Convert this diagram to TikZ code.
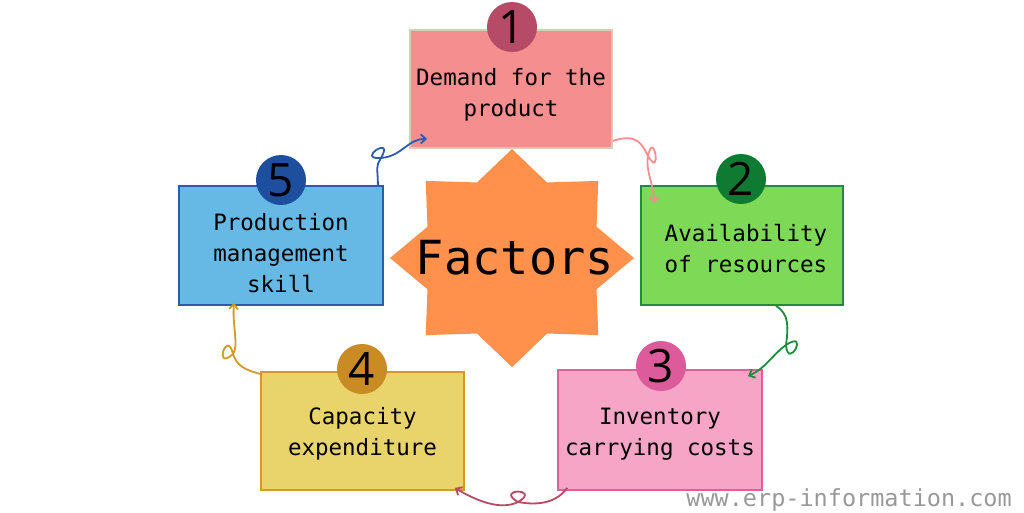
\documentclass[tikz,border=0pt]{standalone}
\usepackage{fontspec}
\setmonofont{DejaVu Sans Mono}
\newfontfamily\numfont{Open Sans}
\usepackage{tikz}
\usetikzlibrary{arrows.meta,calc}
\definecolor{pk1}{HTML}{F58E8E}\definecolor{pk1d}{HTML}{D9CCB0}\definecolor{pk1c}{HTML}{B54B66}
\definecolor{gr2}{HTML}{7ED957}\definecolor{gr2d}{HTML}{1E8C3A}\definecolor{gr2c}{HTML}{0F7A32}
\definecolor{mg3}{HTML}{F6A5C7}\definecolor{mg3d}{HTML}{E0609A}\definecolor{mg3c}{HTML}{DB5B9B}
\definecolor{ye4}{HTML}{E9D46B}\definecolor{ye4d}{HTML}{D39A2A}\definecolor{ye4c}{HTML}{C98B24}
\definecolor{bl5}{HTML}{65B9E4}\definecolor{bl5d}{HTML}{2B5BAE}\definecolor{bl5c}{HTML}{1E4E9E}
\definecolor{starfill}{HTML}{FF914D}
\definecolor{loopred}{HTML}{B84A64}
\tikzset{
  card/.style ={draw,line width=1.8pt,minimum width=202pt,minimum height=118pt,inner sep=0pt},
  num/.style  ={circle,minimum size=50pt,inner sep=0pt,font=\numfont\fontsize{46}{46}\selectfont},
  lbl/.style  ={align=center,inner sep=0pt,font=\ttfamily\fontsize{22.5}{31}\selectfont},
  conn/.style ={line width=1.8pt,-{Straight Barb[length=5pt,width=9pt]}},
}
\begin{document}
\begin{tikzpicture}[x=1pt,y=-1pt]
  \useasboundingbox[fill=white] (0,0) rectangle (1024,512);
  \fill[starfill] plot[variable=\a,samples at={0,22.5,...,337.5}]
    ({512+122*(1-0.25*mod(round(\a/22.5),2))*cos(\a)},{258+109*(1-0.25*mod(round(\a/22.5),2))*sin(\a)}) -- cycle;
  \node[font=\ttfamily\fontsize{47}{47}\selectfont,inner sep=0pt] (fac) at (515,258) {Factors};

  \node[card,fill=pk1,draw=pk1d] (b1) at (511,89)    {};
  \node[card,fill=gr2,draw=gr2d,minimum height=119pt] (b2) at (742,245.5) {};
  \node[card,fill=mg3,draw=mg3d,minimum width=204pt,minimum height=120pt] (b3) at (660,430) {};
  \node[card,fill=ye4,draw=ye4d,minimum width=203pt] (b4) at (362.5,431) {};
  \node[card,fill=bl5,draw=bl5d,minimum width=204pt,minimum height=119pt] (b5) at (281,245.5) {};

  \node[lbl] (t1) at ($(b1.center)+(0,6)$) {Demand for the\\product};
  \node[lbl] (t2) at ($(b2.center)+(4,3)$) {Availability\\of resources};
  \node[lbl] (t3) at ($(b3.center)+(0,4)$) {Inventory\\carrying costs};
  \node[lbl] (t4) at ($(b4.center)+(0,3)$) {Capacity\\expenditure};
  \node[lbl] (t5) at ($(b5.center)+(0,8)$) {Production\\management\\skill};

  \node[num,fill=pk1c] (n1) at (512,27)  {1};
  \node[num,fill=gr2c] (n2) at (741,179) {2};
  \node[num,fill=mg3c] (n3) at (661,366) {3};
  \node[num,fill=ye4c] (n4) at (362,369) {4};
  \node[num,fill=bl5c] (n5) at (281,180) {5};

  \coordinate (k51) at (381,158);
  \coordinate (k12) at (648,156);
  \coordinate (k23) at (786,345);
  \coordinate (k34) at (518,502);
  \coordinate (k45) at (233,354);

  \draw[conn,bl5d] ($(b5.north east)+(-6,0)$) .. controls +(0,-18) and +(-6,10) .. (k51)
    .. controls +(14,-24) and +(-26,2) .. (k51) .. controls +(22,-2) and +(-20,0) .. ($(b1.south west)+(18,-10)$);
  \draw[conn,pk1] ($(b1.south east)+(0,-8)$) .. controls +(24,-8) and +(-6,-12) .. (k12)
    .. controls +(14,24) and +(6,-28) .. (k12) .. controls +(-3,14) and +(0,-18) .. ($(b2.north west)+(14,18)$);
  \draw[conn,gr2d] ($(b2.south east)+(-68,0)$) .. controls +(14,8) and +(2,-16) .. (k23)
    .. controls +(2,26) and +(24,-16) .. (k23) .. controls +(-14,10) and +(18,-8) .. ($(b3.north east)+(-15,7)$);
  \draw[conn,loopred] ($(b3.south west)+(10,-3)$) .. controls +(-10,14) and +(22,4) .. (k34)
    .. controls +(-24,-14) and +(24,-14) .. (k34) .. controls +(-18,9) and +(20,12) .. ($(b4.south east)+(-10,-3)$);
  \draw[conn,ye4d] ($(b4.north west)+(1,3)$) .. controls +(-16,-4) and +(4,12) .. (k45)
    .. controls +(-6,-26) and +(-20,18) .. (k45) .. controls +(6,-8) and +(-2,22) .. ($(b5.south west)+(56,-3)$);

  \node[anchor=east,text=black!40,inner sep=0pt,font=\ttfamily\fontsize{23.5}{24}\selectfont] (web) at (1012,500) {www.erp-information.com};
\end{tikzpicture}
\end{document}
